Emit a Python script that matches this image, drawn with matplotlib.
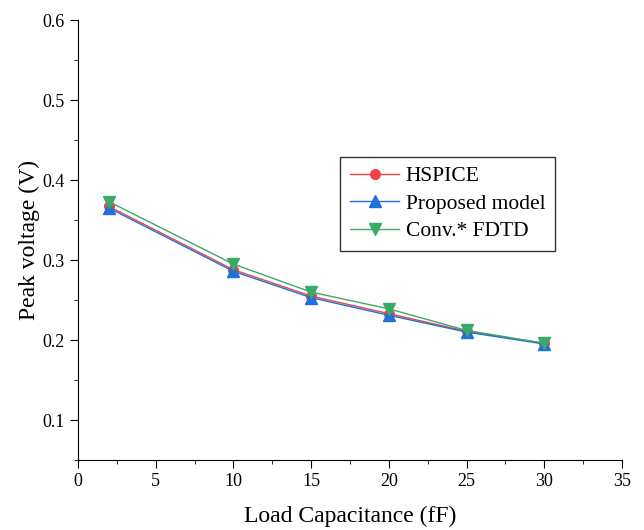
import matplotlib
matplotlib.use("Agg")
import matplotlib.pyplot as plt
from matplotlib.ticker import MultipleLocator

plt.rcParams['font.family'] = ['Liberation Serif', 'DejaVu Serif']

load_cap = [2, 10, 15, 20, 25, 30]
hspice = [0.367, 0.288, 0.255, 0.233, 0.211, 0.196]
proposed = [0.365, 0.286, 0.253, 0.231, 0.210, 0.195]
fdtd = [0.373, 0.295, 0.260, 0.239, 0.212, 0.196]

fig = plt.figure(figsize=(6.44, 5.30), dpi=100)
ax = fig.add_axes([0.121, 0.132, 0.845, 0.830])

ax.plot(load_cap, hspice, color='#f04444', marker='o', ms=7, lw=1, label='HSPICE')
ax.plot(load_cap, proposed, color='#1f6fdc', marker='^', ms=8, lw=1, label='Proposed model')
ax.plot(load_cap, fdtd, color='#3aaa68', marker='v', ms=8, lw=1, label='Conv.* FDTD')

ax.set_xlim(0, 35)
ax.set_ylim(0.05, 0.6)
ax.xaxis.set_major_locator(MultipleLocator(5))
ax.xaxis.set_minor_locator(MultipleLocator(2.5))
ax.yaxis.set_minor_locator(MultipleLocator(0.05))
ax.set_yticks([0.1, 0.2, 0.3, 0.4, 0.5, 0.6])
ax.tick_params(which='major', direction='out', length=6, labelsize=13)
ax.tick_params(which='minor', direction='out', length=3)
for side in ('top', 'right'):
    ax.spines[side].set_visible(False)

ax.set_xlabel('Load Capacitance (fF)', fontsize=17, labelpad=11)
ax.set_ylabel('Peak voltage (V)', fontsize=17, labelpad=2)

leg = ax.legend(loc='upper left', bbox_to_anchor=(0.482, 0.69), fontsize=15.5,
                frameon=True, fancybox=False, edgecolor='black',
                handlelength=2.3, handletextpad=0.3, borderpad=0.45,
                labelspacing=0.35, borderaxespad=0)
leg.get_frame().set_linewidth(1)

fig.savefig('out.png', dpi=100)
